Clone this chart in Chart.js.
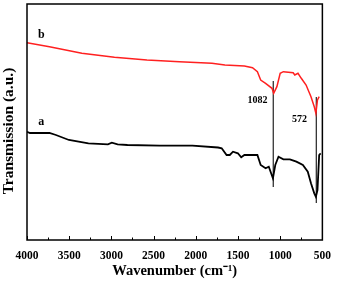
<!DOCTYPE html>
<html>
<head>
<meta charset="utf-8">
<script src="https://cdn.jsdelivr.net/npm/chart.js@4"></script>
<style>
  body { margin: 0; background: #fff; }
  #wrap { width: 340px; height: 281px; }
</style>
</head>
<body>
<div id="wrap"><canvas id="ftir"></canvas></div>
<script>
// spectrum b (red), wavenumber / transmission (arbitrary units)
const ondaB = [4000, 3734, 3350, 2964, 2579, 2194, 1809, 1655, 1424, 1328, 1270, 1231, 1173, 1097, 1077, 1039, 1000, 962, 846, 827, 789, 750, 693, 635, 596, 577, 558, 538];
const transB = [197.3, 193.3, 186.7, 182.7, 180, 178.3, 176.7, 175, 174, 172.3, 168.3, 160, 156.7, 151.7, 146.7, 153.3, 166.7, 168.3, 167.3, 165, 166.7, 161.7, 155, 143.3, 133.3, 126.7, 140, 143.3];

// spectrum a (black)
const ondaA = [4000, 3965, 3734, 3657, 3503, 3272, 3041, 2995, 2926, 2810, 2429, 2040, 1736, 1693, 1635, 1597, 1559, 1501, 1462, 1424, 1309, 1270, 1231, 1173, 1135, 1086, 1058, 1020, 962, 885, 808, 731, 673, 635, 596, 577, 558, 538, 520];
const transA = [108.3, 107, 107, 105, 100, 96.7, 95.7, 97.3, 95.7, 95, 94.3, 94.3, 92.5, 91.7, 85, 85, 88.3, 86.7, 82.7, 85, 85, 85, 75, 71.7, 73.3, 61.7, 75, 83.3, 80.7, 80.7, 78.3, 75, 68.3, 56.7, 46.7, 43.3, 50, 85, 86.7];

// marker lines
const marcas = [1082, 572];
const marcaTopo = [159, 143];
const marcaBase = [53, 37];

// tick labels
const ticksX = [4000, 3500, 3000, 2500, 2000, 1500, 1000, 500];

function pares(xs, ys) {
    let out = [];
    for (let i = 0; i < xs.length; i++) {
        out.push({ x: xs[i], y: ys[i] });
    }
    return out;
}

let datasets = [
    { label: 'b', data: pares(ondaB, transB), borderColor: '#ff2020', borderWidth: 1.5, pointRadius: 0, tension: 0 },
    { label: 'a', data: pares(ondaA, transA), borderColor: '#000', borderWidth: 1.8, pointRadius: 0, tension: 0 }
];
for (let i = 0; i < marcas.length; i++) {
    datasets.push({
        label: 'm' + marcas[i],
        data: [{ x: marcas[i], y: marcaTopo[i] }, { x: marcas[i], y: marcaBase[i] }],
        borderColor: '#222', borderWidth: 1.2, pointRadius: 0
    });
}

const serif = '"Liberation Serif", "Times New Roman", serif';

// frame, inward ticks, y title and the peak / curve labels
const extras = {
    id: 'extras',
    afterDraw(chart) {
        const ctx = chart.ctx;
        const a = chart.chartArea;
        const sx = chart.scales.x, sy = chart.scales.y;
        ctx.save();
        ctx.strokeStyle = '#000';
        ctx.lineWidth = 1.5;
        ctx.strokeRect(a.left, a.top, a.right - a.left, a.bottom - a.top);
        ctx.lineWidth = 1;
        for (let v = 500; v <= 4000; v += 250) {
            const px = Math.round(sx.getPixelForValue(v)) + 0.5;
            const len = (v % 500 == 0) ? 4 : 2.5;
            ctx.beginPath();
            ctx.moveTo(px, a.bottom);
            ctx.lineTo(px, a.bottom - len);
            ctx.stroke();
        }
        ctx.fillStyle = '#000';
        ctx.textAlign = 'center';
        ctx.textBaseline = 'middle';
        // y title drawn by hand, it sits a bit below the middle in the original
        ctx.save();
        ctx.translate(9, 131);
        ctx.rotate(-Math.PI / 2);
        ctx.font = 'bold 15.5px ' + serif;
        ctx.fillText('Transmission (a.u.)', 0, 0);
        ctx.restore();
        ctx.font = 'bold 12px ' + serif;
        ctx.fillText('b', sx.getPixelForValue(3830), sy.getPixelForValue(205));
        ctx.fillText('a', sx.getPixelForValue(3830), sy.getPixelForValue(118));
        ctx.font = 'bold 10px ' + serif;
        ctx.fillText('1082', sx.getPixelForValue(1270), sy.getPixelForValue(140));
        ctx.fillText('572', sx.getPixelForValue(770), sy.getPixelForValue(121));
        ctx.restore();
    }
};

const config = {
    type: 'line',
    data: { datasets: datasets },
    options: {
        responsive: true,
        maintainAspectRatio: false,
        animation: false,
        layout: { padding: { top: 4, right: 10, left: 0, bottom: 0 } },
        plugins: { legend: { display: false }, tooltip: { enabled: false } },
        scales: {
            x: {
                type: 'linear',
                reverse: true,
                min: 500,
                max: 4000,
                afterBuildTicks: (s) => { s.ticks = ticksX.map(v => ({ value: v })); },
                grid: { display: false, drawTicks: false },
                border: { display: false },
                ticks: { color: '#000', font: { family: serif, size: 11.5, weight: 'bold' }, padding: 9, maxRotation: 0, callback: (v) => String(v) },
                title: { display: true, text: 'Wavenumber (cm\u207B\u00B9)', color: '#000', font: { family: serif, size: 14.5, weight: 'bold' }, padding: { top: 0, bottom: 1 } },
                afterFit: (s) => { s.height = 41; }
            },
            y: {
                min: 0,
                max: 236,
                grid: { display: false, drawTicks: false },
                border: { display: false },
                ticks: { display: false },
                title: { display: false },
                afterFit: (s) => { s.width = 27; }
            }
        }
    },
    plugins: [extras]
};

var ctx = document.getElementById('ftir').getContext('2d');
let grafico = new Chart(ctx, config);
</script>
</body>
</html>
